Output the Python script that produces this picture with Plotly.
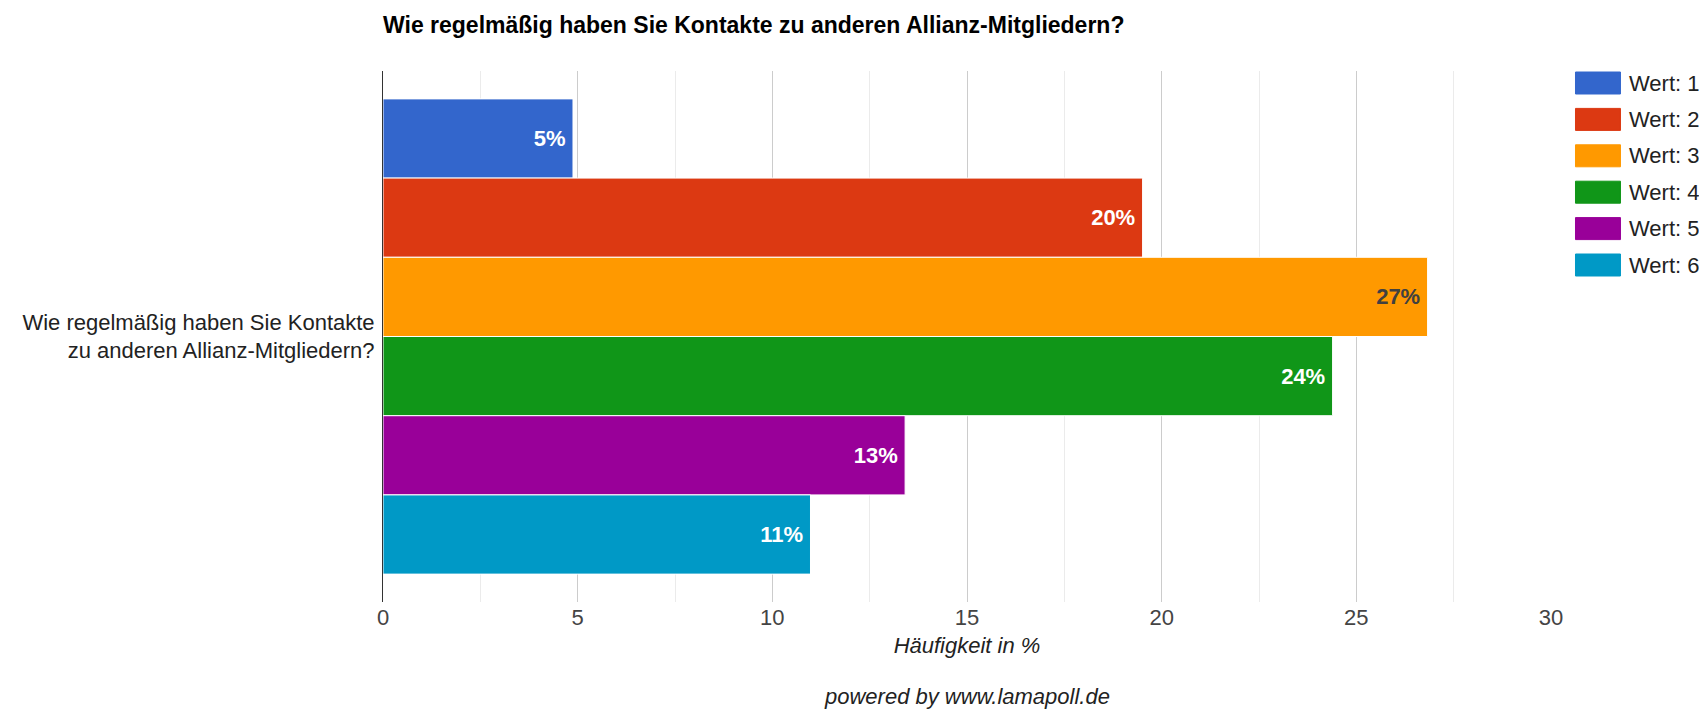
import plotly.graph_objects as go

# Survey data (Häufigkeit in %)
question = "Wie regelmäßig haben Sie Kontakte zu anderen Allianz-Mitgliedern?"
category_label = "Wie regelmäßig haben Sie Kontakte<br>zu anderen Allianz-Mitgliedern?"
series_names = ["Wert: 1", "Wert: 2", "Wert: 3", "Wert: 4", "Wert: 5", "Wert: 6"]
values = [4.88, 19.51, 26.83, 24.39, 13.41, 10.98]
labels = ["5%", "20%", "27%", "24%", "13%", "11%"]
colors = ["#3366CC", "#DC3912", "#FF9900", "#109618", "#990099", "#0099C6"]
label_colors = ["#ffffff", "#ffffff", "#404040", "#ffffff", "#ffffff", "#ffffff"]

FONT = "Arial, Liberation Sans, sans-serif"
FS = 22
# the page body adds an 8px margin, so the figure is drawn 8px smaller
OFF = 8
W, H = 1707 - OFF, 711 - OFF
PL, PR, PT, PB = 383 - OFF, 1551.5 - OFF, 71 - OFF, 602 - OFF  # plot area in px


def px_x(px):
    return (px - OFF - PL) / (PR - PL)


def px_y(py):
    return (PB - (py - OFF)) / (PB - PT)


fig = go.Figure()
for name, v, lab, c, lc in zip(series_names, values, labels, colors, label_colors):
    fig.add_trace(go.Bar(
        x=[v], y=[question], name=name, orientation="h",
        marker=dict(color=c, line=dict(color="white", width=1)),
        text=[lab + "\u2009"], textposition="inside", insidetextanchor="end",
        textangle=0,
        textfont=dict(family=FONT, size=FS, color=lc, weight="bold"),
        hovertemplate="%{x:.1f}%<extra>" + name + "</extra>",
        showlegend=False,
    ))

# legend drawn as large swatches (like the original)
shapes = []
annotations = []
for i, (name, c) in enumerate(zip(series_names, colors)):
    yc = 83 + 36.4 * i
    shapes.append(dict(
        type="rect", xref="paper", yref="paper",
        x0=px_x(1576), x1=px_x(1621), y0=px_y(yc + 11), y1=px_y(yc - 11),
        fillcolor=c, line=dict(color=c, width=1), layer="above",
    ))
    annotations.append(dict(
        xref="paper", yref="paper", x=px_x(1628), y=px_y(yc),
        xanchor="left", yanchor="middle", showarrow=False,
        text=name, font=dict(family=FONT, size=FS, color="#222222"),
    ))

annotations.append(dict(
    xref="paper", yref="paper", x=0.5, y=px_y(696),
    xanchor="center", yanchor="middle", showarrow=False,
    text="<i>powered by www.lamapoll.de</i>",
    font=dict(family=FONT, size=FS, color="#222222"),
))

fig.update_layout(
    width=W, height=H,
    margin=dict(l=PL, r=W - PR, t=PT, b=H - PB, autoexpand=False),
    paper_bgcolor="white", plot_bgcolor="white",
    barmode="group", bargap=0.105, bargroupgap=0,
    title=dict(
        text="<b>" + question + "</b>",
        x=0, xref="paper", xanchor="left",
        y=1 - (25 - OFF) / H, yref="container", yanchor="middle",
        font=dict(family=FONT, size=23, color="#000000"),
    ),
    xaxis=dict(
        range=[0, 30], dtick=5, tick0=0,
        showgrid=True, gridcolor="#cccccc", gridwidth=1,
        minor=dict(dtick=2.5, showgrid=True, gridcolor="#ebebeb", gridwidth=1),
        zeroline=False, showline=False,
        tickfont=dict(family=FONT, size=FS, color="#444444"),
        title=dict(text="<i>Häufigkeit in %</i>", standoff=8,
                   font=dict(family=FONT, size=FS, color="#222222")),
    ),
    yaxis=dict(
        autorange="reversed",
        tickvals=[question], ticktext=[category_label],
        showgrid=False, zeroline=False,
        showline=True, linecolor="#333333", linewidth=1,
        ticks="", ticklabelstandoff=3,
        tickfont=dict(family=FONT, size=FS, color="#222222"),
    ),
    shapes=shapes,
    annotations=annotations,
    showlegend=False,
    hovermode="closest",
)

fig.write_html("out.html")
